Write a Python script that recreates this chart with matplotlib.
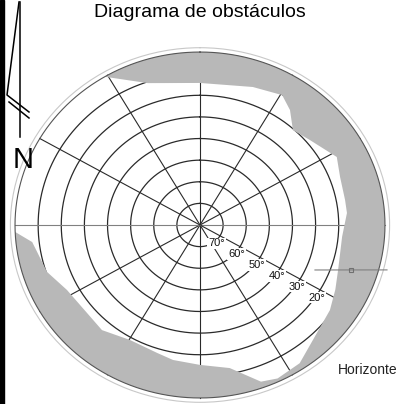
import numpy as np
import matplotlib.pyplot as plt
from matplotlib.patches import Rectangle

plt.rcParams['font.family'] = ['Liberation Sans', 'DejaVu Sans']

# altitude rings (degrees above horizon) and azimuth spokes
ring_alt = [70, 60, 50, 40, 30, 20, 10]
spoke_az = list(range(0, 360, 30))
label_alt = [70, 60, 50, 40, 30, 20]

# obstacle profile: azimuth (deg, clockwise from top) and altitude (deg)
obst_az = [-31, -19, 0, 19.7, 30.6, 36.2, 42.5, 50.5, 62, 70, 79.5, 85, 95,
           109, 117, 125, 146, 154.7, 160, 169, 180, 190.6, 197.4, 209.7,
           221.1, 242.4, 251.8, 263.8, 267.7]
obst_alt = [0, 10.6, 14.3, 12.2, 10.2, 14.1, 20.5, 18.3, 13, 15.5, 16.2, 16.2,
            18.3, 16.8, 14.3, 11.4, 2.9, 1.5, 2.9, 12.6, 15.3, 16.5, 18, 18.8,
            15.5, 15.1, 10.4, 7, 0]

HOR = 80  # radius of the horizon (altitude 0)


def rad(alt):
    return HOR - np.asarray(alt, dtype=float)


fig = plt.figure(figsize=(4.06, 4.04), dpi=100)
ax = fig.add_axes([0.0256, 0.0042, 0.934, 0.8777], projection='polar')
ax.set_aspect('auto')
ax.set_theta_zero_location('N')
ax.set_theta_direction(-1)
ax.set_rlim(0, 82)
ax.set_xticks([])
ax.set_yticks([])
ax.grid(False)
ax.spines['polar'].set_color('#c8c8c8')
ax.spines['polar'].set_linewidth(0.8)

t = np.linspace(0, 2 * np.pi, 721)
for a in ring_alt:
    ax.plot(t, np.full_like(t, rad(a)), color='#2a2a2a', lw=0.9, zorder=1)

for az in spoke_az:
    c = '#808080' if az in (90, 270) else '#2a2a2a'
    ax.plot([np.deg2rad(az)] * 2, [0, HOR], color=c, lw=0.8, zorder=1)

# obstacles (between profile and horizon)
back = np.linspace(obst_az[-1], obst_az[0], 300)
th = np.deg2rad(np.r_[obst_az, back])
rr = np.r_[rad(obst_alt), np.full(back.size, HOR)]
ax.fill(th, rr, color='#b8b8b8', lw=0, zorder=2)

ax.plot(t, np.full_like(t, HOR), color='#555555', lw=0.8, zorder=3)

for a in label_alt:
    ax.annotate(f'{a}°', xy=(np.deg2rad(120), rad(a)), xytext=(-2.5, -5.5),
                textcoords='offset points', ha='center', va='center',
                fontsize=8, color='#111111', zorder=4,
                bbox=dict(fc='white', ec='none', pad=0.6))

# horizon pointer
ax.plot(np.deg2rad([112.7, 104.4]), [53.9, 83.5], color='#808080', lw=0.8,
        zorder=4, clip_on=False)
ax.plot(np.deg2rad(107.7), 68.5, marker='s', ms=3.5, mfc='none',
        mec='#707070', mew=0.8, zorder=5, clip_on=False)

# north arrow
ax2 = fig.add_axes([0, 1 - 140 / 404, 40 / 406, 140 / 404])
ax2.set_xlim(0, 40)
ax2.set_ylim(140, 0)
ax2.axis('off')
ax2.plot([20, 20], [2, 137], color='black', lw=1.1)
ax2.plot([19, 7, 29], [2, 95, 112], color='black', lw=1.1)
ax2.plot([9, 29], [102, 118], color='black', lw=1.1)

fig.text(23 / 406, 1 - 168 / 404, 'N', fontsize=21, ha='center', va='baseline')
fig.text(200 / 406, 1 - 17 / 404, 'Diagrama de obstáculos', fontsize=14,
         ha='center', va='baseline')
fig.text(338 / 406, 1 - 374 / 404, 'Horizonte', fontsize=10, ha='left',
         va='baseline', color='#222222')

fig.add_artist(Rectangle((0, 0), 4 / 406, 1, transform=fig.transFigure,
                         color='black'))

fig.savefig('out.png', dpi=100)
